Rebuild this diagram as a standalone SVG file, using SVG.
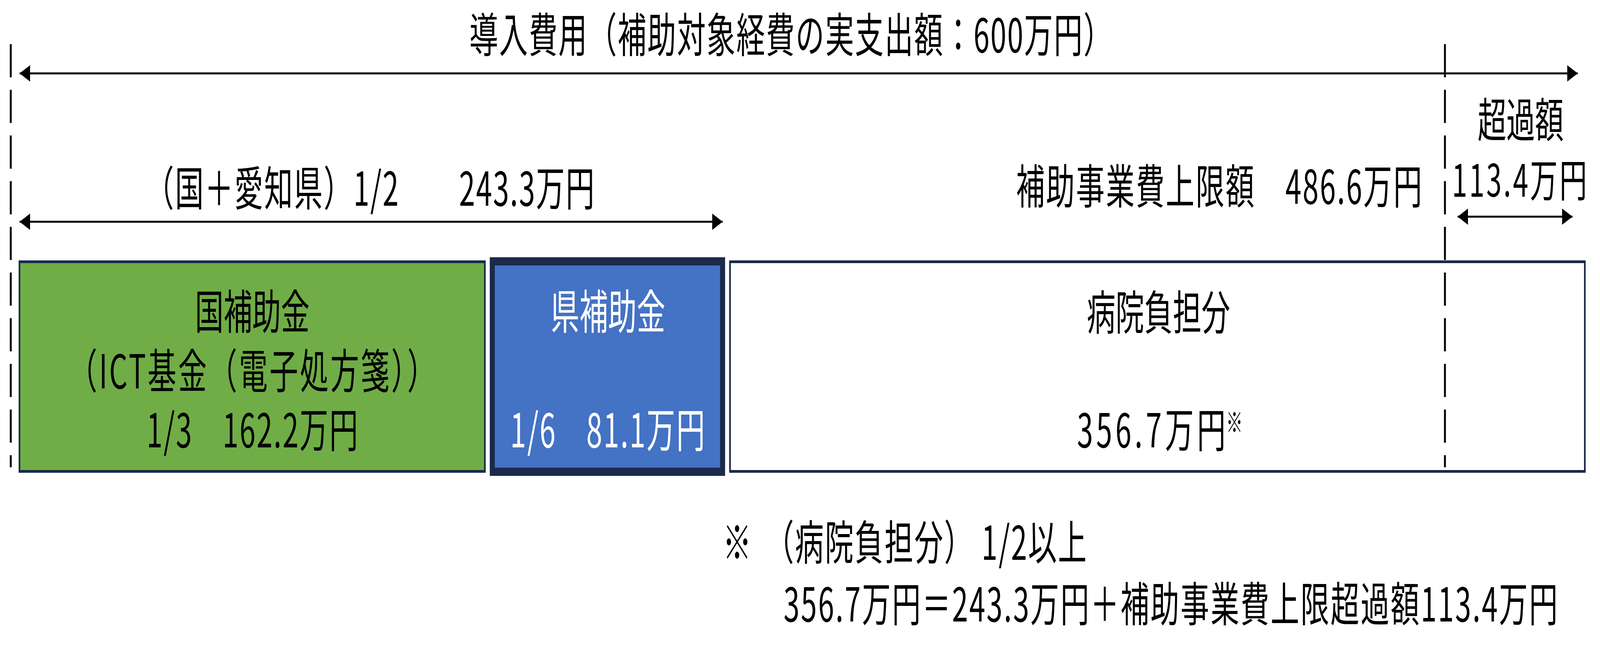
<svg xmlns="http://www.w3.org/2000/svg" width="6697" height="1665" viewBox="0 0 6697 1665" preserveAspectRatio="none" style="width:100vw;height:100vh;display:block">
<style>
.t{font-family:"Noto Sans CJK JP","Noto Sans CJK SC",sans-serif;font-size:120px;fill:#000}
.w{fill:#fff}
.m{text-anchor:middle}
.e{text-anchor:end}
.dim{stroke:#000;stroke-width:5;fill:none}
.dash{stroke:#000;stroke-width:8;stroke-dasharray:85 32;fill:none}
.box{stroke:#1B2A4C;stroke-width:7}
</style>
<defs>
<marker id="ah" markerUnits="userSpaceOnUse" markerWidth="44" markerHeight="42" viewBox="0 0 44 42" refX="44" refY="21" orient="auto-start-reverse">
<path d="M0,0 L44,21 L0,42 z" fill="#000"/>
</marker>
</defs>
<rect width="6697" height="1665" fill="#fff"/>
<g id="labels">
<text class="t m" x="3310" y="134" textLength="2690">導入費用（補助対象経費の実支出額：600万円）</text>
<text class="t m" x="1548" y="527" textLength="1880">（国＋愛知県）1/2　　243.3万円</text>
<text class="t e" x="5952" y="522" textLength="1699">補助事業費上限額　486.6万円</text>
<text class="t m" x="6365" y="352">超過額</text>
<text class="t m" x="6360" y="504" style="font-size:115px" textLength="565">113.4万円</text>
</g>
<g id="node-national">
<rect class="box" x="81.5" y="670.5" width="1948" height="537" fill="#70AD47"/>
<text class="t m" x="1056" y="843">国補助金</text>
<text class="t m" x="1056" y="995" textLength="1538">（ICT基金（電子処方箋））</text>
<text class="t m" x="1056" y="1146" textLength="885">1/3　162.2万円</text>
</g>
<g id="node-prefecture">
<rect x="2060.5" y="669.5" width="964" height="539" fill="#4472C4" stroke="#1B2A4C" stroke-width="21"/>
<text class="t m w" x="2545" y="843">県補助金</text>
<text class="t m w" x="2543" y="1146" textLength="815">1/6　81.1万円</text>
</g>
<g id="node-hospital">
<rect class="box" x="3055.5" y="670.5" width="3578" height="537" fill="#fff"/>
<text class="t m" x="4849" y="845">病院負担分</text>
<text class="t" x="4508" y="1146" textLength="622">356.7万円</text>
<text class="t" x="5132" y="1108" style="font-size:70px">※</text>
</g>
<g id="footnote">
<text class="t" x="3025" y="1434">※</text>
<text class="t" x="3203" y="1434" textLength="1345">（病院負担分） 1/2以上</text>
<text class="t" x="3280" y="1592" textLength="3240">356.7万円＝243.3万円＋補助事業費上限超過額113.4万円</text>
</g>
<g id="connectors">
<line class="dash" x1="45" y1="113" x2="45" y2="1197"/>
<line class="dash" x1="6048" y1="113" x2="6048" y2="1197"/>
<line class="dim" x1="82" y1="188" x2="6604" y2="188" marker-start="url(#ah)" marker-end="url(#ah)"/>
<line class="dim" x1="82" y1="568" x2="3025" y2="568" marker-start="url(#ah)" marker-end="url(#ah)"/>
<line class="dim" x1="6101" y1="555" x2="6582" y2="555" marker-start="url(#ah)" marker-end="url(#ah)"/>
</g>
</svg>
